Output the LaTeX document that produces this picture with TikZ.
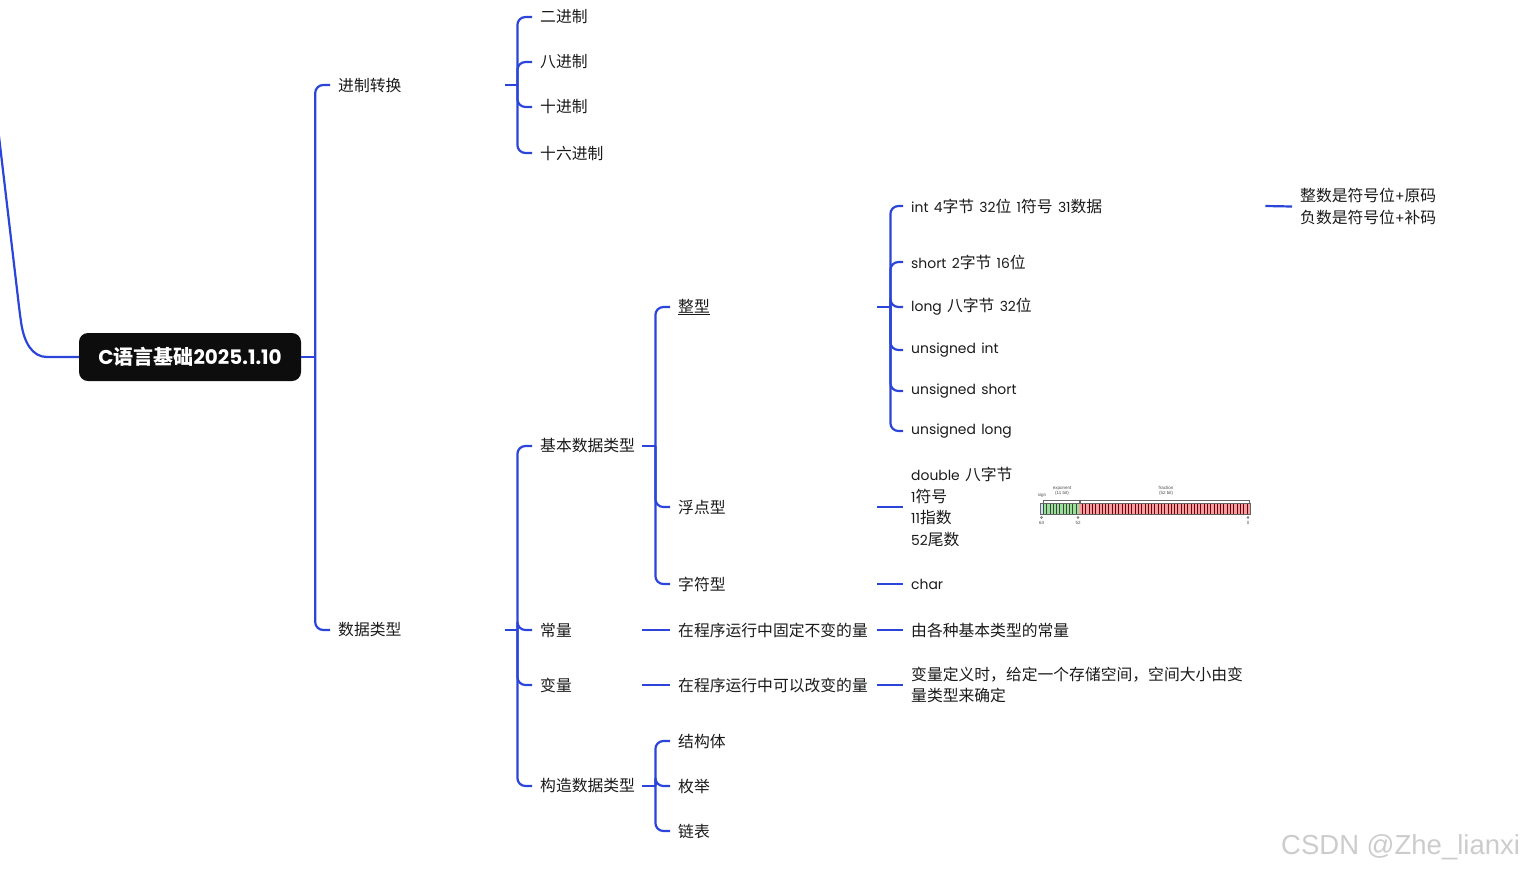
\documentclass[tikz,border=0pt]{standalone}
\usepackage{fontspec}
\setmainfont{Noto Sans CJK SC}
\newfontfamily\latfont{Poppins}[Scale=0.88]
\newfontfamily\wmfont{Liberation Sans}
\newcommand\latn[1]{{\latfont #1}}
\definecolor{lineblue}{RGB}{43,68,217}
\definecolor{txt}{RGB}{26,26,26}
\definecolor{rootbg}{RGB}{13,13,13}
\definecolor{signc}{RGB}{200,230,245}
\definecolor{expc}{RGB}{150,225,150}
\definecolor{fracc}{RGB}{240,160,165}
\tikzset{
  conn/.style={draw=lineblue,line width=2.2pt,rounded corners=8pt},
  tx/.style={anchor=west,inner xsep=8pt,inner ysep=0pt,text=txt,font=\fontsize{15.8}{21.5}\selectfont,align=left},
  c1/.style={tx,text width=159pt},
  c2/.style={tx,text width=94pt},
  c3/.style={tx,text width=191pt},
  c4/.style={tx,text width=346pt},
  rootbox/.style={fill=rootbg,rounded corners=9pt,minimum width=222pt,minimum height=48pt,inner sep=0pt,text=white,font=\fontsize{20}{24}\selectfont\bfseries},
  tiny/.style={inner sep=0pt,text=black!70,font=\wmfont\fontsize{4.5}{5}\selectfont,align=center}
}
\begin{document}
\begin{tikzpicture}[x=1pt,y=-1pt]
\useasboundingbox (0,0) rectangle (1523,873);
% root
\node[rootbox] (root) at (190,357) {{\latfont\fontsize{22.7}{24}\selectfont C}语言基础{\latfont\fontsize{22.7}{24}\selectfont 2025.1.10}};
\coordinate (upper) at (-2,128);
% level 1
\node[c1] (jz) at (330,85) {进制转换};
\node[c1] (sj) at (330,630) {数据类型};
% level 2
\node[tx] (b2) at (532,17) {二进制};
\node[tx] (b8) at (532,62) {八进制};
\node[tx] (b10) at (532,107) {十进制};
\node[tx] (b16) at (532,153) {十六进制};
\node[c2] (jb) at (532,446) {基本数据类型};
\node[c2] (cl) at (532,630) {常量};
\node[c2] (bl) at (532,685) {变量};
\node[c2] (gz) at (532,786) {构造数据类型};
% level 3
\node[c3] (zx) at (670,307) {\underline{整型}};
\node[c3] (fd) at (670,507) {浮点型};
\node[c3] (zf) at (670,584) {字符型};
\node[c3] (cl1) at (670,630) {在程序运行中固定不变的量};
\node[c3] (bl1) at (670,685) {在程序运行中可以改变的量};
\node[tx] (jg) at (670,741) {结构体};
\node[tx] (mj) at (670,786) {枚举};
\node[tx] (lb) at (670,831) {链表};
% level 4
\node[c4] (int) at (903,206) {\latn{int 4}字节 \latn{32}位 \latn{1}符号 \latn{31}数据};
\node[c4] (short) at (903,262) {\latn{short 2}字节 \latn{16}位};
\node[c4] (long) at (903,307) {\latn{long }八字节 \latn{32}位};
\node[c4] (ui) at (903,350) {\latn{unsigned int}};
\node[c4] (us) at (903,391) {\latn{unsigned short}};
\node[c4] (ul) at (903,431) {\latn{unsigned long}};
\node[c4] (dbl) at (903,507) {\latn{double }八字节\\\latn{1}符号\\\latn{11}指数\\\latn{52}尾数};
\node[c4] (chr) at (903,584) {\latn{char}};
\node[c4] (cl2) at (903,630) {由各种基本类型的常量};
\node[c4] (bl2) at (903,685) {变量定义时，给定一个存储空间，空间大小由变\\量类型来确定};
% level 5
\node[tx] (fu) at (1292,206.5) {整数是符号位\latn{+}原码\\负数是符号位\latn{+}补码};
% connectors
\draw[conn] (root.west) -- (55,357) .. controls (32,357) and (24,342) .. (20,315) -- (upper);
\draw[conn] (root.east) -- ++(14,0) coordinate (rj);
\foreach \c in {jz,sj} \draw[conn] (rj) |- (\c.west);
\draw[conn] (jz.east) -- ++(12,0) coordinate (jzj);
\foreach \c in {b2,b8,b10,b16} \draw[conn] (jzj) |- (\c.west);
\draw[conn] (sj.east) -- ++(12,0) coordinate (sjj);
\foreach \c in {jb,cl,bl,gz} \draw[conn] (sjj) |- (\c.west);
\draw[conn] (jb.east) -- ++(13,0) coordinate (jbj);
\foreach \c in {zx,fd,zf} \draw[conn] (jbj) |- (\c.west);
\draw[conn] (gz.east) -- ++(13,0) coordinate (gzj);
\foreach \c in {jg,mj,lb} \draw[conn] (gzj) |- (\c.west);
\draw[conn] (zx.east) -- ++(13,0) coordinate (zxj);
\foreach \c in {int,short,long,ui,us,ul} \draw[conn] (zxj) |- (\c.west);
\draw[conn] (fd.east) -- (dbl.west);
\draw[conn] (zf.east) -- (chr.west);
\draw[conn] (cl.east) -- (cl1.west);
\draw[conn] (cl1.east) -- (cl2.west);
\draw[conn] (bl.east) -- (bl1.west);
\draw[conn] (bl1.east) -- (bl2.west);
\draw[conn] (int.east) -- (fu.west);
% IEEE double bit layout
\fill[signc] (1040,503) rectangle (1043.3,514);
\fill[expc] (1043.3,503) rectangle (1079,514);
\fill[fracc] (1079,503) rectangle (1250,514);
\foreach \i in {1,...,11} \draw[black!75,line width=0.5pt] ({1040+\i*3.25},503) -- ++(0,11);
\foreach \i in {1,...,51} \draw[red!45!black,line width=0.4pt] ({1079+\i*3.288},503) -- ++(0,11);
\draw[black!60,line width=0.5pt] (1040,503) rectangle (1250,514);
\draw[black!60,line width=0.4pt] (1043,503) -- (1043,500) -- (1079,500) -- (1079,503);
\draw[black!60,line width=0.4pt] (1080,503) -- (1080,500) -- (1249,500) -- (1249,503);
\node[tiny] at (1042,495) {sign};
\node[tiny] at (1062,491.5) {exponent\\(11 bit)};
\node[tiny] at (1166,491) {fraction\\(52 bit)};
\foreach \x/\l in {1041.5/63,1078/52,1248/0} {
  \draw[black!60,line width=0.4pt] (\x,517.5) circle (1pt);
  \node[tiny] at (\x,522.5) {\l};
}
% watermark
\node[anchor=west,inner sep=0pt,text=black!20,font=\wmfont\fontsize{27.5}{30}\selectfont] (wm) at (1281,847) {CSDN @Zhe\_lianxi};
\end{tikzpicture}
\end{document}
